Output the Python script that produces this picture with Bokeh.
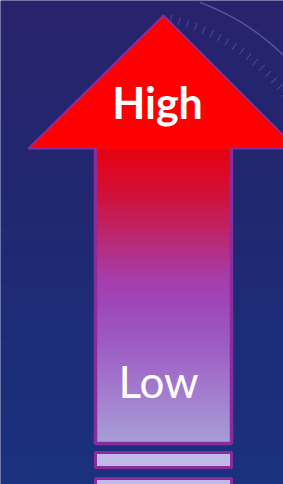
import numpy as np
from bokeh.plotting import figure
from bokeh.models import Range1d
from bokeh.core.properties import value
from bokeh.embed import file_html
from bokeh.resources import INLINE

# ---- content ----
labels = ["High", "Low"]
label_x = [157, 158]
label_y = [102, 380]

# ---- style constants ----
BORDER = "#8a2c9c"
HEAD_RED = "#ff0000"
BAR_FILL = "#c0b8e8"
bg_stops = [(0, "#29236c"), (200, "#212871"), (484, "#1a3280")]
shaft_stops = [(148, "#ff0000"), (168, "#fa0418"), (200, "#e6123a"),
               (240, "#d02a78"), (275, "#bc40b0"), (300, "#b24ac4"),
               (340, "#b062cc"), (380, "#b67fd8"), (420, "#b99ee0"),
               (443, "#bcb0e6")]

def hex2rgb(h):
    h = h.lstrip("#")
    return np.array([int(h[i:i + 2], 16) for i in (0, 2, 4)], dtype=float)

def grad(stops, ys):
    sy = np.array([s[0] for s in stops], dtype=float)
    sc = np.array([hex2rgb(s[1]) for s in stops])
    out = []
    for y in ys:
        r = np.interp(y, sy, sc[:, 0]); g = np.interp(y, sy, sc[:, 1]); b = np.interp(y, sy, sc[:, 2])
        out.append("#%02x%02x%02x" % (int(r), int(g), int(b)))
    return out

p = figure(width=283, height=484, output_backend="svg", toolbar_location=None,
           x_range=Range1d(0, 283), y_range=Range1d(484, 0), min_border=0)
p.axis.visible = False
p.grid.visible = False
p.outline_line_color = None
p.background_fill_color = "#1f2a72"
p.border_fill_color = "#1f2a72"

# background gradient
by = np.arange(0, 484, 4)
p.quad(left=0, right=283, top=by, bottom=by + 4.5, fill_color=grad(bg_stops, by + 2), line_color=None)

# faint decorative dial (top right)
cx, cy, R = 120, 220, 232
ang = np.linspace(np.radians(-70), np.radians(-10), 80)
p.line(cx + R * np.cos(ang), cy + R * np.sin(ang), line_color="#8890c8", line_alpha=0.45, line_width=1.5)
tick_ang = np.radians(np.arange(-76, -18, 2.4))
p.segment(x0=cx + 204 * np.cos(tick_ang), y0=cy + 204 * np.sin(tick_ang),
          x1=cx + 212 * np.cos(tick_ang), y1=cy + 212 * np.sin(tick_ang),
          line_color="#7078b8", line_alpha=0.4, line_width=1.2)

# arrow head
p.patch([163, 296, 28], [15, 148, 148], fill_color=HEAD_RED, line_color=BORDER, line_width=2)

# shaft gradient
sy = np.arange(147, 443, 1)
p.quad(left=95, right=231, top=sy, bottom=sy + 1.3, fill_color=grad(shaft_stops, sy), line_color=None)
p.multi_line([[95, 95, 231, 231]], [[148, 443, 443, 148]], line_color=BORDER, line_width=3.5)

# bottom bars
p.quad(left=[95, 95], right=[231, 231], top=[452, 478], bottom=[467, 493],
       fill_color=BAR_FILL, line_color=BORDER, line_width=3)

# labels
p.text(x=[label_x[0]], y=[label_y[0]], text=[labels[0]], text_font=value("Lato"), text_font_style="bold",
       text_font_size="43px", text_color="white", text_align="center", text_baseline="alphabetic")
p.text(x=[label_x[1]], y=[label_y[1]], text=[labels[1]], text_font=value("Lato"), text_font_style="normal",
       text_font_size="44px", text_color="white", text_align="center", text_baseline="alphabetic")

open("out.html", "w").write(file_html(p, INLINE))
